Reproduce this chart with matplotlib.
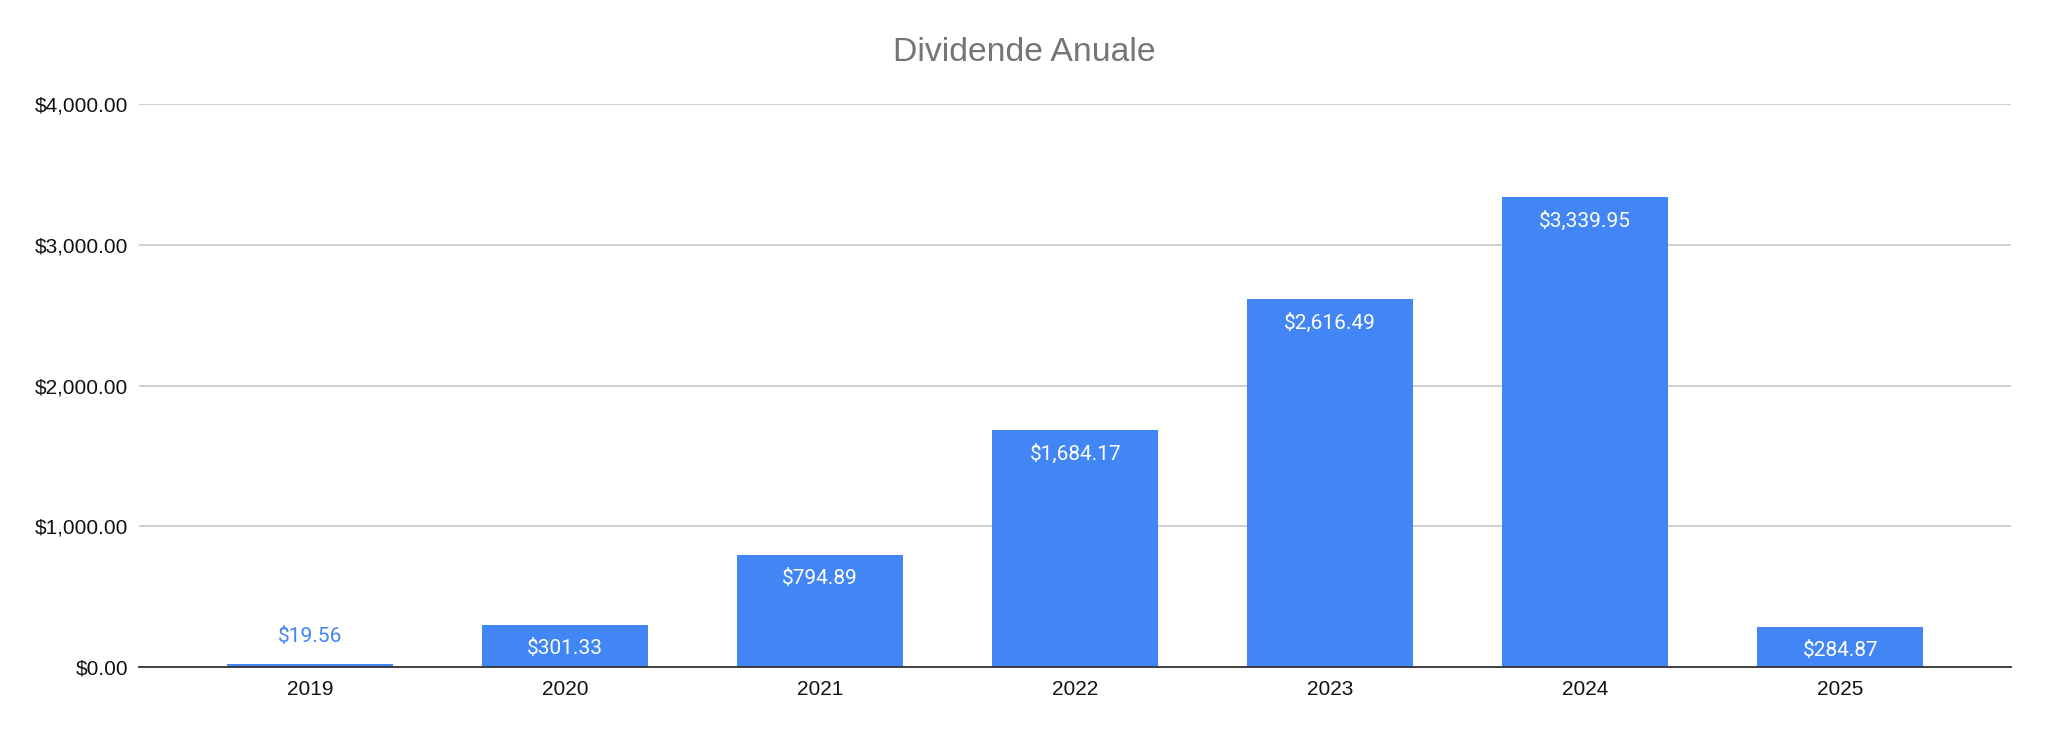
import matplotlib
matplotlib.use("Agg")
import matplotlib.pyplot as plt
from matplotlib.ticker import FuncFormatter

years = ["2019", "2020", "2021", "2022", "2023", "2024", "2025"]
dividends = [19.56, 301.33, 794.89, 1684.17, 2616.49, 3339.95, 284.87]
title = "Dividende Anuale"
yticks = [0, 1000, 2000, 3000, 4000]

plt.rcParams['font.family'] = ['Liberation Sans', 'DejaVu Sans']

fig = plt.figure(figsize=(20.48, 7.34), dpi=100)
ax = fig.add_axes([0.068, 0.091, 0.914, 0.767])

BLUE = "#4285F4"
x = list(range(len(years)))
bars = ax.bar(x, dividends, width=0.65, color=BLUE, zorder=3)

ax.set_xlim(-0.67, len(years) - 0.33)
ax.set_ylim(0, 4000)
ax.set_yticks(yticks)
ax.yaxis.set_major_formatter(FuncFormatter(lambda v, p: f"${v:,.2f}"))
ax.set_xticks(x)
ax.set_xticklabels(years)

ax.grid(axis='y', color='#cccccc', linewidth=1.3, zorder=0)
for s in ['top', 'right', 'left']:
    ax.spines[s].set_visible(False)
ax.spines['bottom'].set_color('#333333')
ax.spines['bottom'].set_linewidth(1.3)
ax.spines['bottom'].set_zorder(4)
ax.tick_params(axis='both', length=0, labelsize=15, colors='#111111')
ax.tick_params(axis='x', pad=9)
ax.tick_params(axis='y', pad=8)

for xi, v in zip(x, dividends):
    lab = f"${v:,.2f}"
    if v > 200:
        ax.annotate(lab, (xi, v), xytext=(0, -17), textcoords='offset points',
                    ha='center', va='center', color='white', fontsize=15,
                    family='Roboto', zorder=5)
    else:
        ax.annotate(lab, (xi, v), xytext=(0, 20), textcoords='offset points',
                    ha='center', va='center', color=BLUE, fontsize=15,
                    family='Roboto', zorder=5)

fig.text(0.5, 0.929, title, ha='center', va='center', fontsize=24.3, color='#757575')

fig.savefig("out.png", dpi=100, facecolor='white')
